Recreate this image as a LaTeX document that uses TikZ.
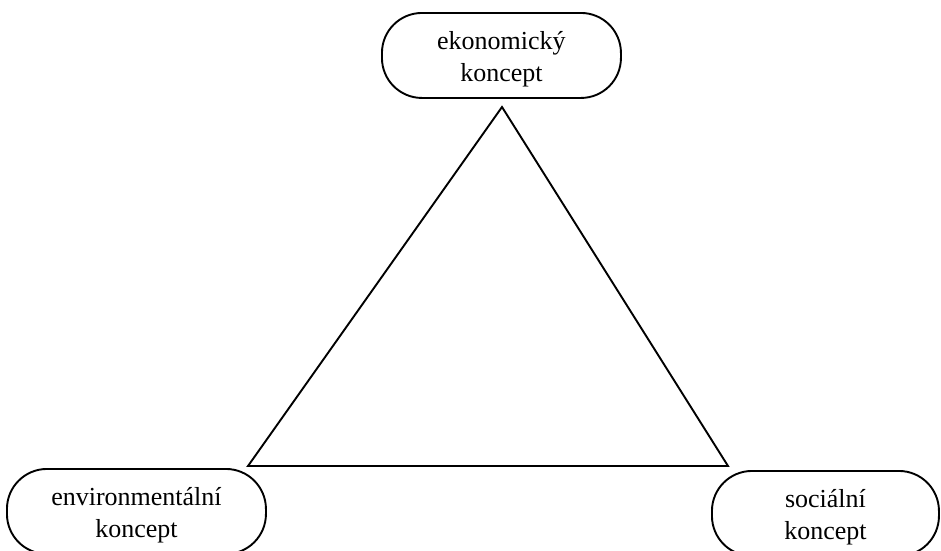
\documentclass[tikz,border=0pt]{standalone}
\usepackage{fontspec}
\setmainfont{Liberation Serif}
\newcommand\cstrut{\rule{0pt}{26pt}}
\begin{document}
\begin{tikzpicture}[x=1pt,y=-1pt,
  concept/.style={draw, line width=1.9pt, rounded corners=40pt, align=center,
    font=\fontsize{26}{32}\selectfont, inner sep=0pt, anchor=north west},
  edge/.style={line width=1.9pt, line join=miter}]
\useasboundingbox (0,0) rectangle (941,550);
\clip (0,0) rectangle (941,550);
\node[concept, minimum width=239pt, minimum height=85pt] (eko) at (381,12) {\cstrut ekonomický\\koncept};
\node[concept, minimum width=259pt, minimum height=85pt] (env) at (6,468) {\cstrut environmentální\\koncept};
\node[concept, minimum width=227pt, minimum height=85pt] (soc) at (711,470) {\cstrut sociální\\koncept};
\coordinate (apex) at (502,107);
\coordinate (bl) at (248,466);
\coordinate (br) at (728,466);
\draw[edge] (apex) -- (bl) -- (br) -- cycle;
\end{tikzpicture}
\end{document}
